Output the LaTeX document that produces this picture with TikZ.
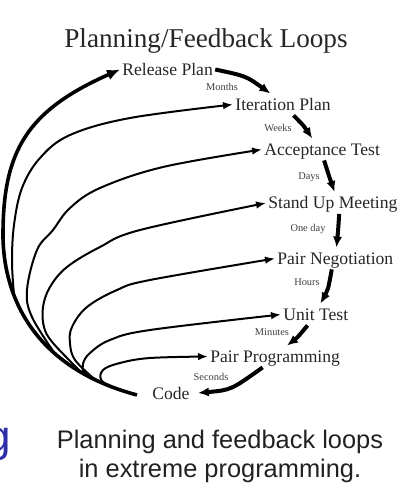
\documentclass[tikz,border=0pt]{standalone}
\usepackage{fontspec}
\setmainfont{Liberation Serif}
\newfontfamily\captionfont{Liberation Sans}
\usetikzlibrary{arrows.meta}

\begin{document}
\begin{tikzpicture}[
        x=0.5pt, y=-0.5pt,
        stage/.style={% For the stages of the loop
            font=\fontsize{8.8}{10}\selectfont,
            anchor=base west,
            inner sep=1pt,
            text height=0.7em,
            text depth=0.15em,
            text=black!85,
            },
        timespan/.style={% For the small time labels
            font=\fontsize{5.2}{6}\selectfont,
            inner sep=0pt,
            text=black!75,
            },
        feedback/.style={% Arrows from Code back up
            line width=1pt,
            -{Latex[length=5pt,width=3.8pt]},
            },
        stagearrow/.style={% Arrows down the chain
            line width=2pt,
            -{Latex[length=5.5pt,width=4.6pt]},
            },
            ]
        \useasboundingbox (0,0) rectangle (412,500);
        \node[font=\fontsize{13.6}{16}\selectfont, text=black!85, anchor=base] (title) at (206,47) {Planning/Feedback Loops};
            % Stages
        \node[stage] (rel) at (120,75) {Release Plan};
        \node[stage] (iter) at (233,110) {Iteration Plan};
        \node[stage] (acc) at (262,155) {Acceptance Test};
        \node[stage] (stand) at (266,208.5) {Stand Up Meeting};
        \node[stage] (neg) at (275,264) {Pair Negotiation};
        \node[stage] (unit) at (281,320) {Unit Test};
        \node[stage] (prog) at (208,362) {Pair Programming};
        \node[stage] (code) at (150,399) {Code};
        \coordinate (src) at (137,395);
            % Time spans
        \node[timespan] (months) at (222,87) {Months};
        \node[timespan] (weeks) at (278,128) {Weeks};
        \node[timespan] (days) at (309,177) {Days};
        \node[timespan] (oneday) at (308,229) {One day};
        \node[timespan] (hours) at (307,282) {Hours};
        \node[timespan] (minutes) at (272,332) {Minutes};
        \node[timespan] (seconds) at (211,377) {Seconds};
            % Down the chain
        \draw[stagearrow] (rel.east) .. controls (246,76) .. (iter.139);
        \draw[stagearrow] (iter.-46) .. controls (304,126) .. (acc.132);
        \draw[stagearrow] (acc.-80) .. controls (329,176) .. (stand.81);
        \draw[stagearrow] (stand.-60) .. controls (338,232) .. (neg.84);
        \draw[stagearrow] (neg.-108) .. controls (328,290) .. (unit.67);
        \draw[stagearrow] (unit.-127) .. controls (297,338) .. (prog.43);
        \draw[stagearrow, shorten >=3pt] (prog.-139) .. controls (231,390) .. (code.east);
            % Back up from Code, the inner loops leave the outer one
        \draw[feedback, line width=1.8pt, -{Latex[length=6.5pt,width=5.5pt]}] (src) .. controls (17,363) and (3,275) .. (3,235)
            coordinate[pos=0.62] (m2) coordinate[pos=0.3] (m3) coordinate[pos=0.18] (m4)
            coordinate[pos=0.13] (m5) coordinate[pos=0.08] (m6) coordinate[pos=0.05] (m7)
            .. controls (3,152) and (26,111) .. (rel.west);
        \draw[feedback] plot[smooth, tension=0.6] coordinates {(m2) (12,262) (14,225) (22,188) (40,158) (70,135) (130,118) (iter.west)};
        \draw[feedback] plot[smooth, tension=0.6] coordinates {(m3) (32,317) (27,290) (37,250) (53,230) (70,208) (100,188) (163,167) (acc.west)};
        \draw[feedback] plot[smooth, tension=0.6] coordinates {(m4) (53,343) (44,327) (43,307) (50,287) (67,267) (100,247) (140,230) (stand.west)};
        \draw[feedback] plot[smooth, tension=0.6] coordinates {(m5) (75,360) (70,343) (72,327) (87,307) (117,290) (150,280) (neg.west)};
        \draw[feedback] plot[smooth, tension=0.6] coordinates {(m6) (86,374) (83,364) (90,353) (110,340) (150,330) (unit.west)};
        \draw[feedback] plot[smooth, tension=0.6] coordinates {(m7) (102,381) (103,370) (120,363) (150,358) (prog.west)};
            % Caption
        \node[font=\captionfont\fontsize{12.7}{14.5}\selectfont, text=black!87, anchor=base] (cap1) at (220,448) {Planning and feedback loops};
        \node[font=\captionfont\fontsize{12.7}{14.5}\selectfont, text=black!87, anchor=base] (cap2) at (220,477) {in extreme programming.};
        \node[font=\captionfont\fontsize{22}{24}\selectfont, text={rgb,255:red,46;green,46;blue,168}, anchor=base west, inner sep=0pt] (g) at (-14,451) {g};
\end{tikzpicture}
\end{document}
